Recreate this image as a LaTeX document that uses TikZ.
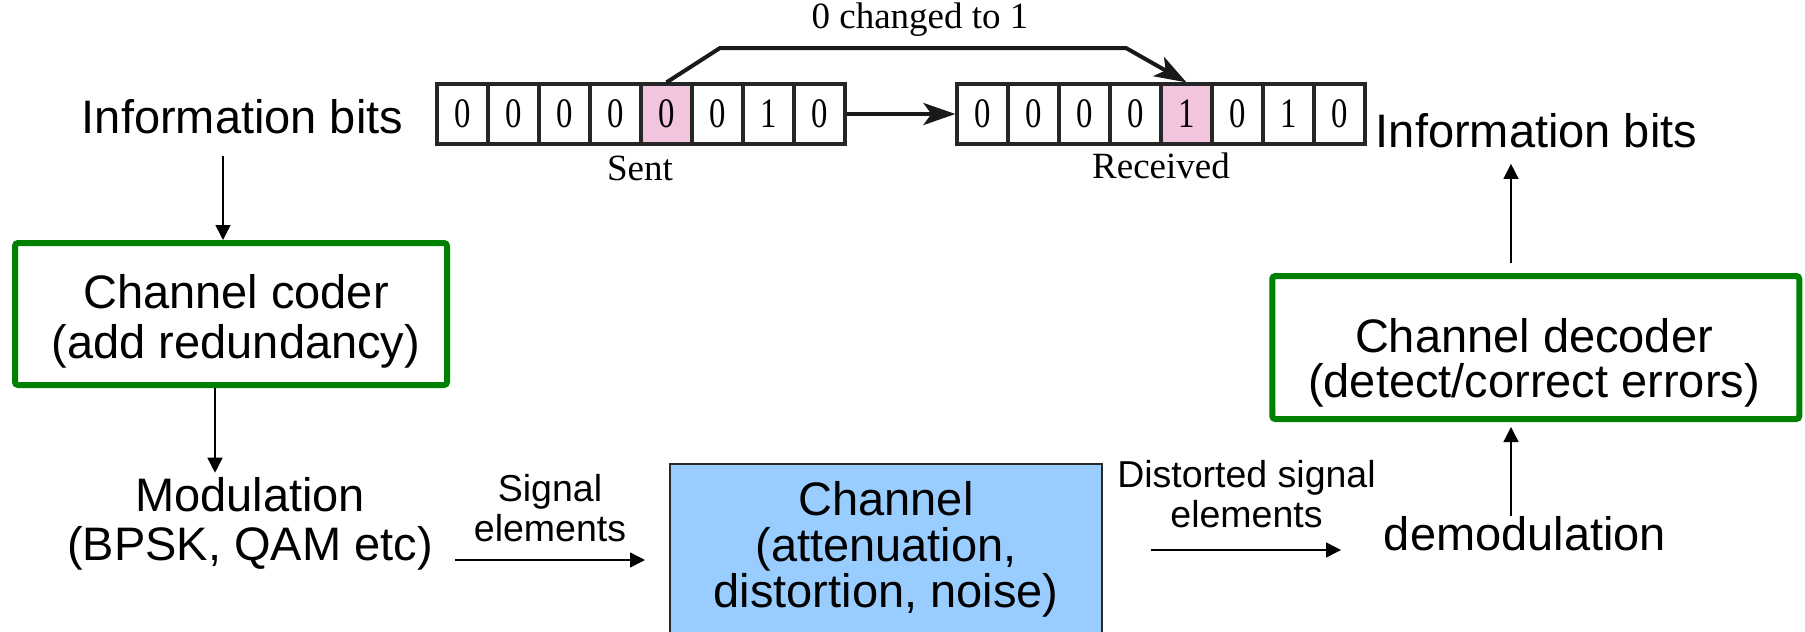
\documentclass[tikz,border=0pt]{standalone}
\usepackage{fontspec}
\usepackage{graphicx}
\setmainfont{Liberation Sans}
\newfontfamily\tms{Liberation Serif}
\usetikzlibrary{arrows.meta}
\definecolor{boxgreen}{RGB}{0,128,0}
\definecolor{cellpink}{RGB}{242,196,222}
\definecolor{chanblue}{RGB}{153,204,255}
\definecolor{chanedge}{RGB}{40,40,40}
\begin{document}
\begin{tikzpicture}[x=0.5pt,y=-0.5pt,
  txt/.style={inner sep=0pt, align=center, font=\fontsize{23.5}{24.5}\selectfont},
  smalltxt/.style={inner sep=0pt, align=center, font=\fontsize{18.75}{20}\selectfont},
  greenbox/.style={draw=boxgreen, line width=3pt, rounded corners=1.5pt, inner sep=0pt},
  cell/.style={draw=black!85, line width=1.6pt, minimum width=25.5pt, minimum height=30pt, inner sep=0pt, font=\tms\fontsize{21}{21}\selectfont},
  pinkcell/.style={cell, fill=cellpink},
  arrsmall/.style={line width=0.75pt, -{Triangle[length=7.5pt,width=7.5pt]}},
  arrbig/.style={line width=2pt, draw=black!90, -{Stealth[length=16pt,width=11pt,inset=4pt]}},
  serif/.style={inner sep=0pt, font=\tms\fontsize{18.5}{18.5}\selectfont}
]
\useasboundingbox (0,0) rectangle (1805,632);

% ---- top bit-error illustration ----
\foreach \st/\b [count=\i] in {cell/0,cell/0,cell/0,cell/0,pinkcell/0,cell/0,cell/1,cell/0}
  \node[\st] (s\i) at ({462.5+51*(\i-1)},114) {\scalebox{0.78}[1]{\b}};
\foreach \st/\b [count=\i] in {cell/0,cell/0,cell/0,cell/0,pinkcell/1,cell/0,cell/1,cell/0}
  \node[\st] (r\i) at ({982.5+51*(\i-1)},114) {\scalebox{0.78}[1]{\b}};
\draw[arrbig] (s8.east) -- (r1.west);
\coordinate (k1) at (720,48);
\coordinate (k2) at (1126,48);
\draw[arrbig] (s5.north) -- (k1) -- (k2) -- (r5.north);
\node[serif, anchor=base] (chg) at (920,28) {0 changed to 1};
\node[serif, anchor=base] (sent) at (640,180) {Sent};
\node[serif, anchor=base] (recv) at (1161,178) {Received};

% ---- main chain ----
\node[txt, anchor=base] (infoL) at (242.5,133) {Information bits};
\node[txt, anchor=base] (infoR) at (1536.5,147) {Information bits};

\node[greenbox, minimum width=216pt, minimum height=71pt] (coder) at (231,314) {};
\node[txt, font=\fontsize{23.5}{25}\selectfont] (coderT) at (236,321) {Channel coder\\(add redundancy)};

\node[greenbox, minimum width=263.5pt, minimum height=71.5pt] (dec) at (1535.75,347.5) {};
\node[txt, font=\fontsize{23.5}{22.5}\selectfont] (decT) at (1534,363) {Channel decoder\\(detect/correct errors)};

\node[draw=chanedge, line width=1pt, fill=chanblue, minimum width=216pt, minimum height=93pt, inner sep=0pt] (chan) at (886,557) {};
\node[txt, font=\fontsize{23.5}{23}\selectfont] (chanT) at (886,549) {Channel\\(attenuation,\\distortion, noise)};

\node[txt] (modT) at (250,523.5) {Modulation\\(BPSK, QAM etc)};
\node[txt, anchor=base] (demod) at (1525,550) {demodulation};

\node[smalltxt] (sig) at (550,508.5) {Signal\\elements};
\node[smalltxt] (dist) at (1246.5,494.5) {Distorted signal\\elements};

% ---- connectors ----
\coordinate (a1) at ([xshift=-9.75pt,yshift=-11pt]infoL.south);
\draw[arrsmall] (a1) -- (a1 |- coder.north);

\coordinate (a2) at ([xshift=-8pt]coder.south);
\draw[arrsmall] (a2) -- ([yshift=2pt]a2 |- modT.north);

\coordinate (sA) at (455,560);
\coordinate (sB) at (645,560);
\draw[arrsmall] (sA) -- (sB);

\coordinate (dA) at (1151,550);
\coordinate (dB) at (1341,550);
\draw[arrsmall] (dA) -- (dB);

\coordinate (a5) at ([xshift=-7pt]demod.north);
\coordinate (t5) at (a5 |- dec.south);
\draw[arrsmall] (a5) -- ([yshift=-2.5pt]t5);

\coordinate (a6) at (a5 |- dec.north);
\coordinate (t6) at (a6 |- infoR.south);
\draw[arrsmall] ([yshift=5pt]a6) -- ([yshift=-8pt]t6);
\end{tikzpicture}
\end{document}
